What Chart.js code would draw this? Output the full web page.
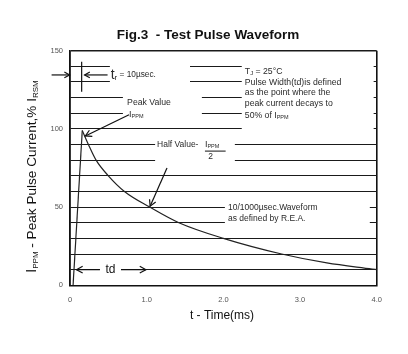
<!DOCTYPE html>
<html>
<head>
<meta charset="utf-8">
<script src="https://cdn.jsdelivr.net/npm/chart.js@4"></script>
<style>
  html, body { margin: 0; padding: 0; background: #fff; }
</style>
</head>
<body>
<canvas id="pulseChart" width="408" height="354"></canvas>
<script>
// rise and decay of the 10/1000us test pulse (time in ms, current in % of Ippm)
const riseTime = [0.04, 0.16];
const riseCurrent = [0, 99];
const decayTime = [0.16, 0.24, 0.34, 0.5, 0.71, 1.04, 1.42, 2.0, 2.76, 3.35, 3.94, 4.0];
const decayCurrent = [99, 90, 80, 70, 60, 50, 40, 30, 20, 14.3, 10.4, 10];
const xTicks = [0, 1, 2, 3, 4];
const yLabels = [0, 50, 100, 150];

const FONT = "'Liberation Sans', Arial, sans-serif";
const INK = '#2a2a2a';

// white boxes that break the grid lines behind the notes: [t0, t1, vTop, vBottom]
const gridGaps = [
  [0.52, 1.565, 145, 125],
  [0.69, 1.72, 125, 105],
  [2.24, 3.96, 145, 95],
  [1.11, 2.15, 95, 75],
  [2.02, 3.91, 55, 35],
  [0.39, 0.665, 15, 5]
];

function rich(ctx, parts, x, y, align) {
  let w = 0;
  parts.forEach(p => { ctx.font = (p.bold ? 'bold ' : '') + p.size + 'px ' + FONT; w += ctx.measureText(p.text).width; });
  let cx = align === 'center' ? x - w / 2 : x;
  parts.forEach(p => {
    ctx.font = (p.bold ? 'bold ' : '') + p.size + 'px ' + FONT;
    ctx.fillText(p.text, cx, y + (p.dy || 0));
    cx += ctx.measureText(p.text).width;
  });
}

function arrow(ctx, x1, y1, x2, y2, head) {
  ctx.beginPath(); ctx.moveTo(x1, y1); ctx.lineTo(x2, y2); ctx.stroke();
  const a = Math.atan2(y2 - y1, x2 - x1);
  ctx.beginPath();
  ctx.moveTo(x2 - head * Math.cos(a - 0.5), y2 - head * Math.sin(a - 0.5));
  ctx.lineTo(x2, y2);
  ctx.lineTo(x2 - head * Math.cos(a + 0.5), y2 - head * Math.sin(a + 0.5));
  ctx.stroke();
}

const notes = {
  id: 'notes',
  beforeDatasetsDraw(chart) {
    const { ctx, scales: { x, y } } = chart;
    ctx.save();
    ctx.fillStyle = '#fff';
    gridGaps.forEach(g => {
      const x0 = x.getPixelForValue(g[0]), x1 = x.getPixelForValue(g[1]);
      const y0 = y.getPixelForValue(g[2]), y1 = y.getPixelForValue(g[3]);
      ctx.fillRect(x0, y0, x1 - x0, y1 - y0);
    });
    ctx.restore();
  },
  afterDraw(chart) {
    const { ctx, scales: { x, y } } = chart;
    const X = t => x.getPixelForValue(t), Y = v => y.getPixelForValue(v);
    ctx.save();
    ctx.fillStyle = INK;
    ctx.strokeStyle = '#111';
    ctx.lineWidth = 1.2;
    ctx.textBaseline = 'middle';
    ctx.textAlign = 'left';

    // title and axis titles
    ctx.fillStyle = '#111';
    rich(ctx, [{ text: 'Fig.3  - Test Pulse Waveform', size: 13.5, bold: true }], 208, 35.5, 'center');
    rich(ctx, [{ text: 't - Time(ms)', size: 12 }], 222, 316, 'center');
    ctx.save();
    ctx.translate(32, 176.5);
    ctx.rotate(-Math.PI / 2);
    rich(ctx, [
      { text: 'I', size: 14 }, { text: 'PPM', size: 8, dy: 4 },
      { text: ' - Peak Pulse Current,% I', size: 13.6 }, { text: 'RSM', size: 8, dy: 4 }
    ], 0, 0, 'center');
    ctx.restore();

    ctx.fillStyle = INK;
    // rise time marker
    ctx.beginPath(); ctx.moveTo(X(0.152), Y(143)); ctx.lineTo(X(0.152), Y(123.7)); ctx.stroke();
    arrow(ctx, X(-0.24), Y(134.5), X(-0.005), Y(134.5), 6);
    arrow(ctx, X(0.49), Y(134.5), X(0.19), Y(134.5), 6);
    rich(ctx, [{ text: 't', size: 14 }, { text: 'r', size: 8, dy: 3 }, { text: ' = 10µsec.', size: 8.3 }], X(0.53), Y(134.5));

    // peak value
    rich(ctx, [{ text: 'Peak Value', size: 8.7 }], X(0.745), Y(116.5));
    rich(ctx, [{ text: 'I', size: 9 }, { text: 'PPM', size: 5.5, dy: 2 }], X(0.77), Y(109.5));
    arrow(ctx, X(0.77), Y(109), X(0.2), Y(95.5), 7);

    // half value
    rich(ctx, [{ text: 'Half Value-', size: 8.5 }], X(1.135), Y(90));
    rich(ctx, [{ text: 'I', size: 9 }, { text: 'PPM', size: 5.5, dy: 2 }], X(1.76), Y(90));
    ctx.beginPath(); ctx.lineWidth = 1; ctx.moveTo(X(1.76), Y(85.8)); ctx.lineTo(X(2.03), Y(85.8)); ctx.stroke();
    rich(ctx, [{ text: '2', size: 8.5 }], X(1.835), Y(82.3), 'center');
    ctx.lineWidth = 1.2;
    arrow(ctx, X(1.265), Y(75), X(1.045), Y(50.6), 7);

    // waveform note
    rich(ctx, [{ text: '10/1000µsec.Waveform', size: 8.5 }], X(2.06), Y(49.5));
    rich(ctx, [{ text: 'as defined by R.E.A.', size: 8.5 }], X(2.06), Y(42.5));

    // pulse width note
    const bx = X(2.28);
    rich(ctx, [{ text: 'T', size: 8.7 }, { text: 'J', size: 6, dy: 2 }, { text: ' = 25°C', size: 8.7 }], bx, Y(136.6));
    rich(ctx, [{ text: 'Pulse Width(td)is defined', size: 8.7 }], bx, Y(129.7));
    rich(ctx, [{ text: 'as the point where the', size: 8.7 }], bx, Y(122.9));
    rich(ctx, [{ text: 'peak current decays to', size: 8.7 }], bx, Y(115.9));
    rich(ctx, [{ text: '50% of I', size: 8.7 }, { text: 'PPM', size: 5.5, dy: 2 }], bx, Y(108.8));

    // td span
    ctx.fillStyle = '#111';
    arrow(ctx, X(0.39), Y(10), X(0.085), Y(10), 7);
    arrow(ctx, X(0.665), Y(10), X(0.99), Y(10), 7);
    rich(ctx, [{ text: 'td', size: 12 }], X(0.528), Y(10), 'center');
    ctx.restore();
  }
};

new Chart(document.getElementById('pulseChart'), {
  type: 'line',
  data: {
    datasets: [{
      data: riseTime.map((t, i) => ({ x: t, y: riseCurrent[i] })),
      borderColor: '#222',
      borderWidth: 1.2,
      pointRadius: 0,
      tension: 0
    }, {
      data: decayTime.map((t, i) => ({ x: t, y: decayCurrent[i] })),
      borderColor: '#222',
      borderWidth: 1.2,
      pointRadius: 0,
      cubicInterpolationMode: 'monotone'
    }]
  },
  options: {
    responsive: false,
    animation: false,
    layout: { padding: { top: 50.7, right: 31.3, left: 0, bottom: 0 } },
    plugins: { legend: { display: false }, tooltip: { enabled: false } },
    scales: {
      x: {
        type: 'linear', min: 0, max: 4,
        afterFit: s => { s.height = 68.7; },
        afterBuildTicks: s => { s.ticks = xTicks.map(v => ({ value: v })); },
        ticks: {
          padding: 10, maxRotation: 0, color: '#555',
          font: { family: FONT, size: 7.5 },
          callback: v => v === 0 ? '0' : v.toFixed(1)
        },
        grid: {
          drawTicks: false,
          color: c => (c.tick && (c.tick.value === 0 || c.tick.value === 4)) ? '#111' : 'rgba(0,0,0,0)',
          lineWidth: 1.6
        },
        border: { color: '#111', width: 1.6 }
      },
      y: {
        min: 0, max: 150,
        afterFit: s => { s.width = 70; },
        ticks: {
          stepSize: 10, padding: 7, color: '#555',
          font: { family: FONT, size: 7.5 },
          callback: v => yLabels.includes(v) ? String(v) : ''
        },
        grid: {
          drawTicks: false,
          color: '#1a1a1a',
          lineWidth: c => (c.tick && c.tick.value === 150) ? 1.6 : 1
        },
        border: { color: '#111', width: 1.6 }
      }
    }
  },
  plugins: [notes]
});
</script>
</body>
</html>
